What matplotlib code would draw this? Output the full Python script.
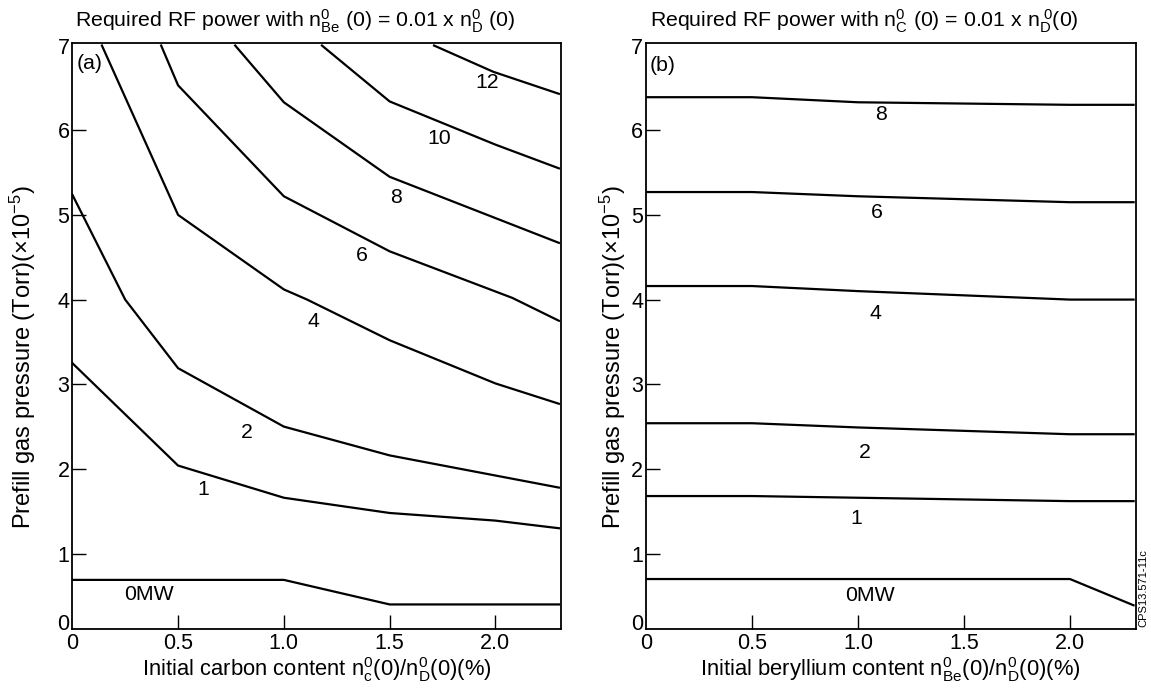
import matplotlib
matplotlib.use("Agg")
import matplotlib.pyplot as plt

plt.rcParams["font.family"] = ["Liberation Sans", "DejaVu Sans"]
plt.rcParams["mathtext.fontset"] = "custom"
plt.rcParams["mathtext.rm"] = "Liberation Sans"
plt.rcParams["mathtext.it"] = "Liberation Sans"
plt.rcParams["mathtext.bf"] = "Liberation Sans:bold"

# ---- panel (a): power contours vs carbon content ----
a_levels = ["0MW", "1", "2", "4", "6", "8", "10", "12"]
a_x = {
    "0MW": [0, 1.0, 1.5, 2.3],
    "1": [0, 0.5, 1.0, 1.5, 2.0, 2.3],
    "2": [0, 0.25, 0.5, 1.0, 1.5, 2.3],
    "4": [0.14, 0.5, 1.0, 1.11, 1.5, 2.0, 2.3],
    "6": [0.42, 0.5, 1.0, 1.5, 2.08, 2.3],
    "8": [0.77, 1.0, 1.5, 2.3],
    "10": [1.18, 1.5, 2.0, 2.3],
    "12": [1.71, 1.99, 2.3],
}
a_y = {
    "0MW": [0.69, 0.69, 0.40, 0.40],
    "1": [3.25, 2.04, 1.66, 1.48, 1.39, 1.30],
    "2": [5.24, 4.00, 3.19, 2.50, 2.16, 1.78],
    "4": [7.0, 5.00, 4.12, 4.00, 3.52, 3.01, 2.77],
    "6": [7.0, 6.53, 5.22, 4.57, 4.02, 3.75],
    "8": [7.0, 6.33, 5.45, 4.67],
    "10": [7.0, 6.34, 5.83, 5.55],
    "12": [7.0, 6.69, 6.43],
}
a_lab_x = [0.36, 0.62, 0.826, 1.14, 1.37, 1.53, 1.735, 1.96]
a_lab_y = [0.52, 1.76, 2.43, 3.74, 4.52, 5.20, 5.90, 6.56]

# ---- panel (b): power contours vs beryllium content ----
b_levels = ["0MW", "1", "2", "4", "6", "8"]
b_x = {
    "0MW": [0, 2.0, 2.3],
    "1": [0, 0.5, 1.0, 2.0, 2.3],
    "2": [0, 0.5, 1.0, 2.0, 2.3],
    "4": [0, 0.5, 1.0, 2.0, 2.3],
    "6": [0, 0.5, 1.0, 2.0, 2.3],
    "8": [0, 0.5, 1.0, 2.0, 2.3],
}
b_y = {
    "0MW": [0.70, 0.70, 0.39],
    "1": [1.68, 1.68, 1.66, 1.62, 1.62],
    "2": [2.54, 2.54, 2.49, 2.41, 2.41],
    "4": [4.16, 4.16, 4.10, 4.00, 4.00],
    "6": [5.27, 5.27, 5.22, 5.15, 5.15],
    "8": [6.39, 6.39, 6.33, 6.30, 6.30],
}
b_lab_x = [1.057, 0.99, 1.03, 1.083, 1.088, 1.107]
b_lab_y = [0.50, 1.41, 2.19, 3.84, 5.03, 6.19]

x_ticks = [0, 0.5, 1.0, 1.5, 2.0]
x_ticklabels = ["0", "0.5", "1.0", "1.5", "2.0"]
y_ticks = [0.19, 1, 2, 3, 4, 5, 6, 7.0]
y_ticklabels = ["0", "1", "2", "3", "4", "5", "6", "7"]

FS = 15.3
W, H = 1151, 688


def style_axes(ax, ylab_x):
    ax.set_xlim(0, 2.31)
    ax.set_ylim(0.11, 7.03)
    ax.set_xticks(x_ticks)
    ax.set_xticklabels(x_ticklabels, fontsize=15.5)
    ax.set_yticks(y_ticks)
    ax.set_yticklabels(y_ticklabels, fontsize=15.5)
    ax.tick_params(axis="both", direction="in", length=10, width=1, pad=2)
    ax.tick_params(axis="x", pad=3)
    xt = ax.xaxis.get_major_ticks()
    xt[0].tick1line.set_visible(False)
    yt = ax.yaxis.get_major_ticks()
    yt[0].tick1line.set_visible(False)
    yt[-1].tick1line.set_visible(False)
    for s in ax.spines.values():
        s.set_linewidth(1.3)
    ax.set_ylabel(r"Prefill gas pressure (Torr)($\times$10$^{-5}$)", fontsize=17)
    ax.yaxis.set_label_coords(ylab_x, 0.465)


fig = plt.figure(figsize=(W / 100, H / 100), dpi=100)
ax1 = fig.add_axes([72.3 / W, 1 - 629 / H, (561 - 72.3) / W, (629 - 43) / H])
ax2 = fig.add_axes([646 / W, 1 - 629 / H, (1135.7 - 646) / W, (629 - 43) / H])

for lev, lx, ly in zip(a_levels, a_lab_x, a_lab_y):
    ax1.plot(a_x[lev], a_y[lev], color="black", lw=1.6, clip_on=True)
    ax1.text(lx, ly, lev, fontsize=FS, ha="center", va="center")
ax1.text(0.08, 6.79, "(a)", fontsize=FS, ha="center", va="center")
style_axes(ax1, -0.07)
ax1.set_xlabel(r"Initial carbon content n$^{0}_{\mathrm{c}}$(0)/n$^{0}_{\mathrm{D}}$(0)(%)",
               fontsize=15.8, labelpad=1)

for lev, lx, ly in zip(b_levels, b_lab_x, b_lab_y):
    ax2.plot(b_x[lev], b_y[lev], color="black", lw=1.6, clip_on=True)
    ax2.text(lx, ly, lev, fontsize=FS, ha="center", va="center")
ax2.text(0.08, 6.77, "(b)", fontsize=FS, ha="center", va="center")
style_axes(ax2, -0.037)
ax2.set_xlabel(r"Initial beryllium content n$^{0}_{\mathrm{Be}}$(0)/n$^{0}_{\mathrm{D}}$(0)(%)",
               fontsize=15.8, labelpad=1)

fig.text(75 / W, 1 - 27 / H,
         r"Required RF power with n$^{0}_{\mathrm{Be}}$ (0) = 0.01 x n$^{0}_{\mathrm{D}}$ (0)",
         fontsize=FS, ha="left", va="baseline")
fig.text(650 / W, 1 - 27 / H,
         r"Required RF power with n$^{0}_{\mathrm{C}}$ (0) = 0.01 x n$_{\mathrm{D}}^{\ 0}$(0)",
         fontsize=FS, ha="left", va="baseline")
fig.text(1143 / W, 1 - 588 / H, "CPS13.571-11c", fontsize=8, rotation=90,
         ha="center", va="center")

fig.savefig("out.png", dpi=100)
